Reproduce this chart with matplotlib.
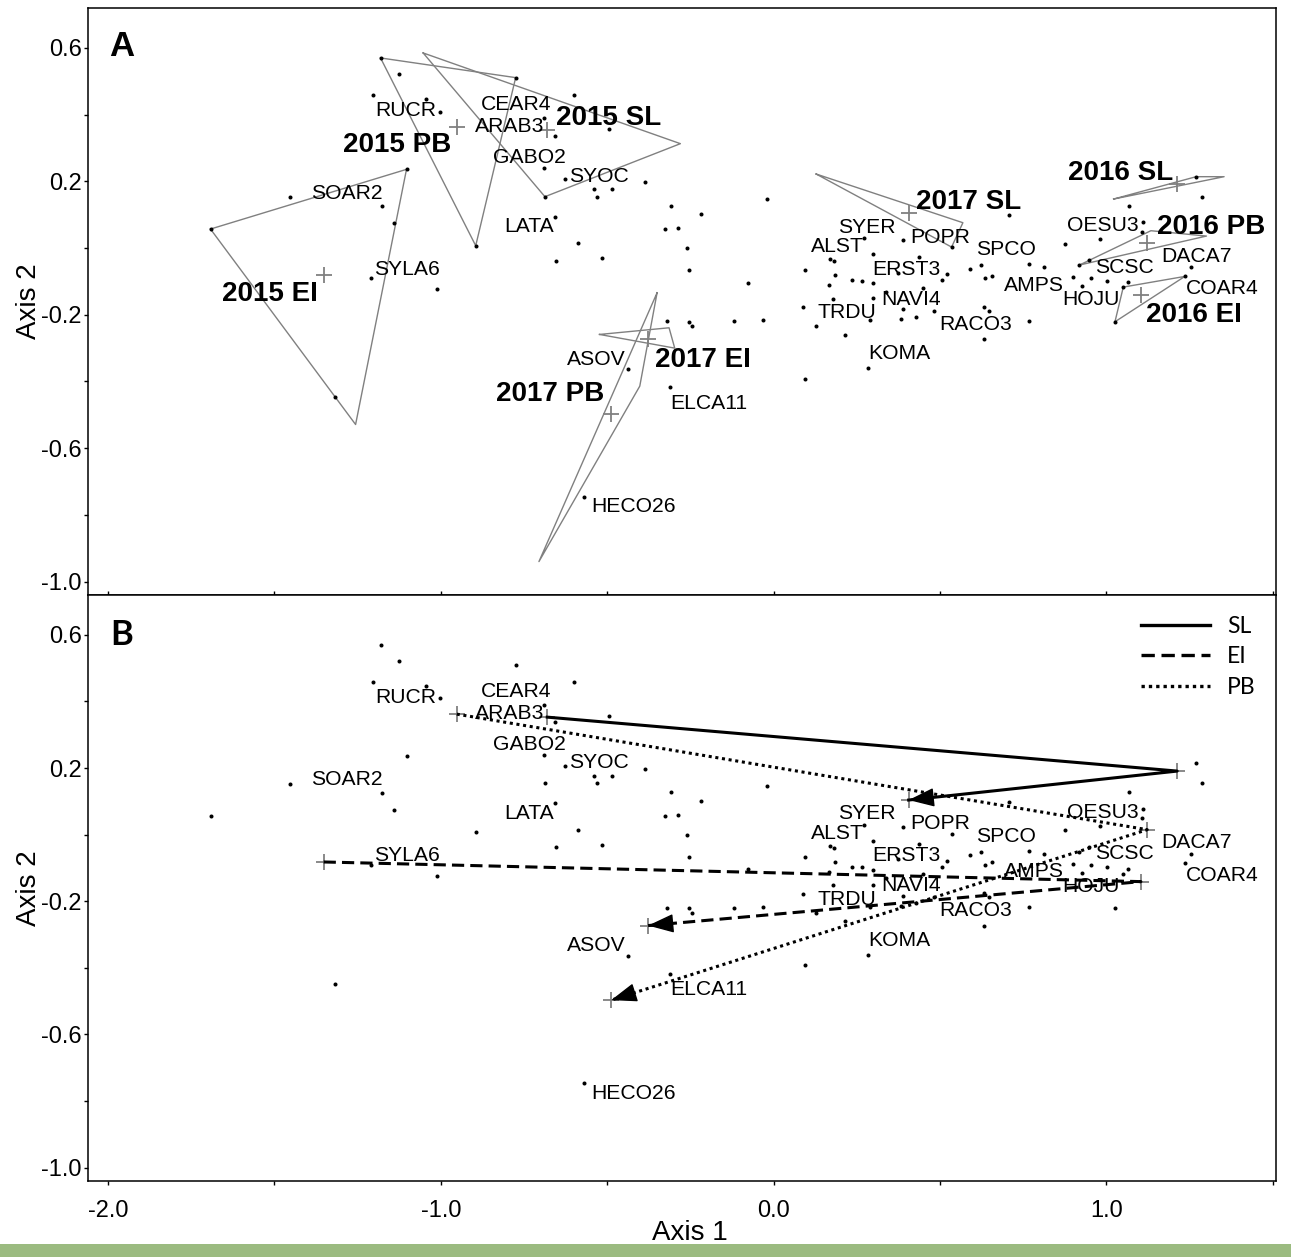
import matplotlib.pyplot as plt
from matplotlib.lines import Line2D
from matplotlib.patches import Rectangle

# species scores on the two ordination axes
sp_x = [-1.181, -1.126, -0.775, -1.205, -1.043, -1.003, -0.691, -0.656, -0.600, -0.495,
        -1.103, -1.453, -1.692, -1.177, -1.140, -0.895, -0.691, -0.687, -0.626, -0.540,
        -0.532, -0.486, -0.386, -0.658, -0.589, -0.655, -0.517, -0.308, -0.325, -0.287,
        -0.260, -0.255, -1.211, -1.011, -1.318, -0.438, -0.312, -0.320, -0.255, -0.571,
        -0.245, -0.119, -0.033, 0.090, 0.094, 0.096, -0.020, -0.217, -0.077,
        0.707, 0.271, 0.390, 0.535, 0.300, 0.170, 0.181, 0.436, 0.623, 0.589,
        0.769, 0.814, 0.186, 0.375, 0.521, 0.505, 0.635, 0.657, 0.235, 0.265,
        0.300, 0.168, 0.180, 0.300, 0.338, 0.450, 0.390, 0.483, 0.383, 0.428,
        0.291, 0.128, 0.214, 0.631, 0.647, 0.769, 0.631, 0.283, 0.875, 0.982,
        1.069, 1.288, 1.270, 1.109, 1.107, 1.253, 0.919, 0.947, 0.900, 0.927,
        0.955, 1.001, 1.064, 1.051, 1.236, 1.026]
sp_y = [0.570, 0.523, 0.511, 0.459, 0.448, 0.409, 0.389, 0.337, 0.459, 0.356,
        0.236, 0.153, 0.057, 0.126, 0.075, 0.007, 0.239, 0.154, 0.206, 0.177,
        0.154, 0.177, 0.198, 0.094, 0.014, -0.038, -0.031, 0.127, 0.056, 0.060,
        -0.001, -0.066, -0.091, -0.123, -0.447, -0.363, -0.418, -0.219, -0.221, -0.747,
        -0.234, -0.219, -0.216, -0.178, -0.066, -0.392, 0.147, 0.101, -0.104,
        0.098, 0.029, 0.023, 0.003, -0.018, -0.034, -0.040, -0.028, -0.052, -0.062,
        -0.049, -0.057, -0.082, -0.074, -0.079, -0.096, -0.090, -0.083, -0.097, -0.098,
        -0.106, -0.111, -0.152, -0.150, -0.131, -0.119, -0.183, -0.188, -0.214, -0.206,
        -0.217, -0.235, -0.260, -0.176, -0.188, -0.218, -0.273, -0.361, 0.013, 0.026,
        0.127, 0.154, 0.214, 0.078, 0.049, -0.057, -0.051, -0.036, -0.088, -0.114,
        -0.091, -0.098, -0.103, -0.117, -0.085, -0.221]

# species codes that are labelled
sp_names = ['RUCR', 'CEAR4', 'ARAB3', 'GABO2', 'SYOC', 'SOAR2', 'LATA', 'SYLA6',
            'ASOV', 'ELCA11', 'HECO26', 'SYER', 'ALST', 'POPR', 'SPCO', 'ERST3',
            'NAVI4', 'TRDU', 'RACO3', 'KOMA', 'AMPS', 'HOJU', 'OESU3', 'SCSC',
            'DACA7', 'COAR4']

# group centroids (year + site)
groups = ['2015 SL', '2015 EI', '2015 PB', '2016 SL', '2016 EI', '2016 PB',
          '2017 SL', '2017 EI', '2017 PB']
cen_x = [-0.680, -1.352, -0.952, 1.213, 1.104, 1.123, 0.406, -0.377, -0.488]
cen_y = [0.353, -0.082, 0.362, 0.191, -0.141, 0.015, 0.104, -0.273, -0.497]

# convex hull vertices of each group, same order as groups
hull_x = [[-1.053, -0.280, -0.687], [-1.692, -1.103, -1.256], [-1.181, -0.775, -0.895],
          [1.022, 1.270, 1.354], [1.051, 1.236, 1.026], [0.919, 1.134, 1.301],
          [0.128, 0.569, 0.535], [-0.523, -0.314, -0.297], [-0.350, -0.402, -0.705]]
hull_y = [[0.585, 0.313, 0.154], [0.057, 0.236, -0.529], [0.570, 0.511, 0.007],
          [0.147, 0.214, 0.214], [-0.117, -0.085, -0.221], [-0.051, 0.052, 0.036],
          [0.222, 0.076, 0.003], [-0.259, -0.239, -0.300], [-0.134, -0.414, -0.940]]

sites = ['SL', 'EI', 'PB']
site_styles = {'SL': '-', 'EI': (0, (4, 2)), 'PB': (0, (1, 1.2))}

# ---- layout (label anchors: left edge, vertical centre) ----
sp_lab_pos = {
    'RUCR': (-1.198, 0.419), 'CEAR4': (-0.880, 0.435), 'ARAB3': (-0.898, 0.369),
    'GABO2': (-0.843, 0.277), 'SYOC': (-0.615, 0.222), 'SOAR2': (-1.390, 0.171),
    'LATA': (-0.808, 0.071), 'SYLA6': (-1.200, -0.058), 'ASOV': (-0.621, -0.328),
    'ELCA11': (-0.311, -0.459), 'HECO26': (-0.547, -0.770), 'SYER': (0.193, 0.069),
    'ALST': (0.111, 0.011), 'POPR': (0.411, 0.039), 'SPCO': (0.609, 0.002),
    'ERST3': (0.296, -0.058), 'NAVI4': (0.325, -0.148), 'TRDU': (0.133, -0.188),
    'RACO3': (0.498, -0.223), 'KOMA': (0.286, -0.311), 'AMPS': (0.691, -0.106),
    'HOJU': (0.869, -0.149), 'OESU3': (0.882, 0.074), 'SCSC': (0.966, -0.051),
    'DACA7': (1.164, -0.019), 'COAR4': (1.239, -0.116)}
grp_lab_pos = {
    '2015 SL': (-0.653, 0.398), '2015 EI': (-1.657, -0.131), '2015 PB': (-1.293, 0.318),
    '2016 SL': (0.884, 0.234), '2016 EI': (1.119, -0.193), '2016 PB': (1.151, 0.071),
    '2017 SL': (0.428, 0.147), '2017 EI': (-0.357, -0.327), '2017 PB': (-0.833, -0.429)}

plt.rcParams['font.family'] = 'Liberation Sans'

fig = plt.figure(figsize=(12.91, 12.57), dpi=100)
axA = fig.add_axes([0.0682, 0.5267, 0.9202, 0.4670])
axB = fig.add_axes([0.0682, 0.0605, 0.9202, 0.4662])

gray = '#808080'

for ax in (axA, axB):
    ax.set_xlim(-2.06, 1.51)
    ax.set_ylim(-1.04, 0.72)
    ax.plot(sp_x, sp_y, 'o', color='black', ms=2.9, mew=0, zorder=3)
    ax.plot(cen_x, cen_y, '+', color=gray, ms=11, mew=1.3, zorder=4)
    for name in sp_names:
        lx, ly = sp_lab_pos[name]
        ax.text(lx, ly - 0.006, name, fontsize=15.2, ha='left', va='center', zorder=5)
    ax.set_xticks([-2, -1, 0, 1])
    ax.set_xticks([-1.5, -0.5, 0.5, 1.5], minor=True)
    ax.set_yticks([0.6, 0.2, -0.2, -0.6, -1.0])
    ax.set_yticklabels(['0.6', '0.2', '-0.2', '-0.6', '-1.0'])
    ax.set_yticks([0.4, 0.0, -0.4, -0.8], minor=True)
    ax.tick_params(axis='y', which='both', direction='out', length=3, width=1,
                   labelsize=17, pad=1.5)
    ax.set_ylabel('Axis 2', fontsize=20)
    ax.yaxis.set_label_coords(-0.039, 0.5)
    for s in ax.spines.values():
        s.set_linewidth(1.1)

# panel A: hulls and group names
for i, g in enumerate(groups):
    hx = hull_x[i] + [hull_x[i][0]]
    hy = hull_y[i] + [hull_y[i][0]]
    axA.plot(hx, hy, color=gray, lw=1.0, zorder=2)
    gx, gy = grp_lab_pos[g]
    axA.text(gx, gy - 0.008, g, fontsize=20, fontweight='bold', ha='left',
             va='center', zorder=5)
axA.tick_params(axis='x', which='both', direction='in', length=3, width=1,
                labelbottom=False)
axA.text(-1.998, 0.605, 'A', fontsize=25, fontweight='bold', va='center', ha='left')

# panel B: trajectories 2015 -> 2016 -> 2017 per site
for site in sites:
    idx = [groups.index(f'{yr} {site}') for yr in ('2015', '2016', '2017')]
    tx = [cen_x[k] for k in idx]
    ty = [cen_y[k] for k in idx]
    axB.plot(tx, ty, color='black', lw=2.2, linestyle=site_styles[site], zorder=6)
    dx, dy = tx[2] - tx[1], ty[2] - ty[1]
    d = (dx ** 2 + dy ** 2) ** 0.5
    axB.annotate('', xy=(tx[2], ty[2]),
                 xytext=(tx[2] - 0.06 * dx / d, ty[2] - 0.06 * dy / d),
                 arrowprops=dict(arrowstyle='-|>,head_length=0.6,head_width=0.22',
                                 mutation_scale=27, color='black', lw=1,
                                 shrinkA=0, shrinkB=0), zorder=7)
axB.tick_params(axis='x', which='both', direction='out', length=3, width=1,
                labelsize=17, pad=11)
axB.set_xticklabels(['-2.0', '-1.0', '0.0', '1.0'])
axB.set_xlabel('Axis 1', fontsize=20, va='top')
axB.xaxis.set_label_coords(0.507, -0.066)
axB.text(-1.992, 0.601, 'B', fontsize=25, fontweight='bold', va='center', ha='left',
         family='Lato')

handles = [Line2D([], [], color='black', lw=2.4, linestyle=site_styles[s]) for s in sites]
leg = axB.legend(handles, sites, loc='upper right', frameon=False, handlelength=3.0,
                 handletextpad=0.75, labelspacing=0.42, borderaxespad=0.5,
                 bbox_to_anchor=(1.0, 1.0), prop={'family': 'Lato', 'size': 16.5})

# green strip along the bottom of the figure
fig.patches.append(Rectangle((0, 0), 1, 0.0105, transform=fig.transFigure,
                             facecolor='#9bbb80', edgecolor='none'))

fig.savefig('out.png', dpi=100)
